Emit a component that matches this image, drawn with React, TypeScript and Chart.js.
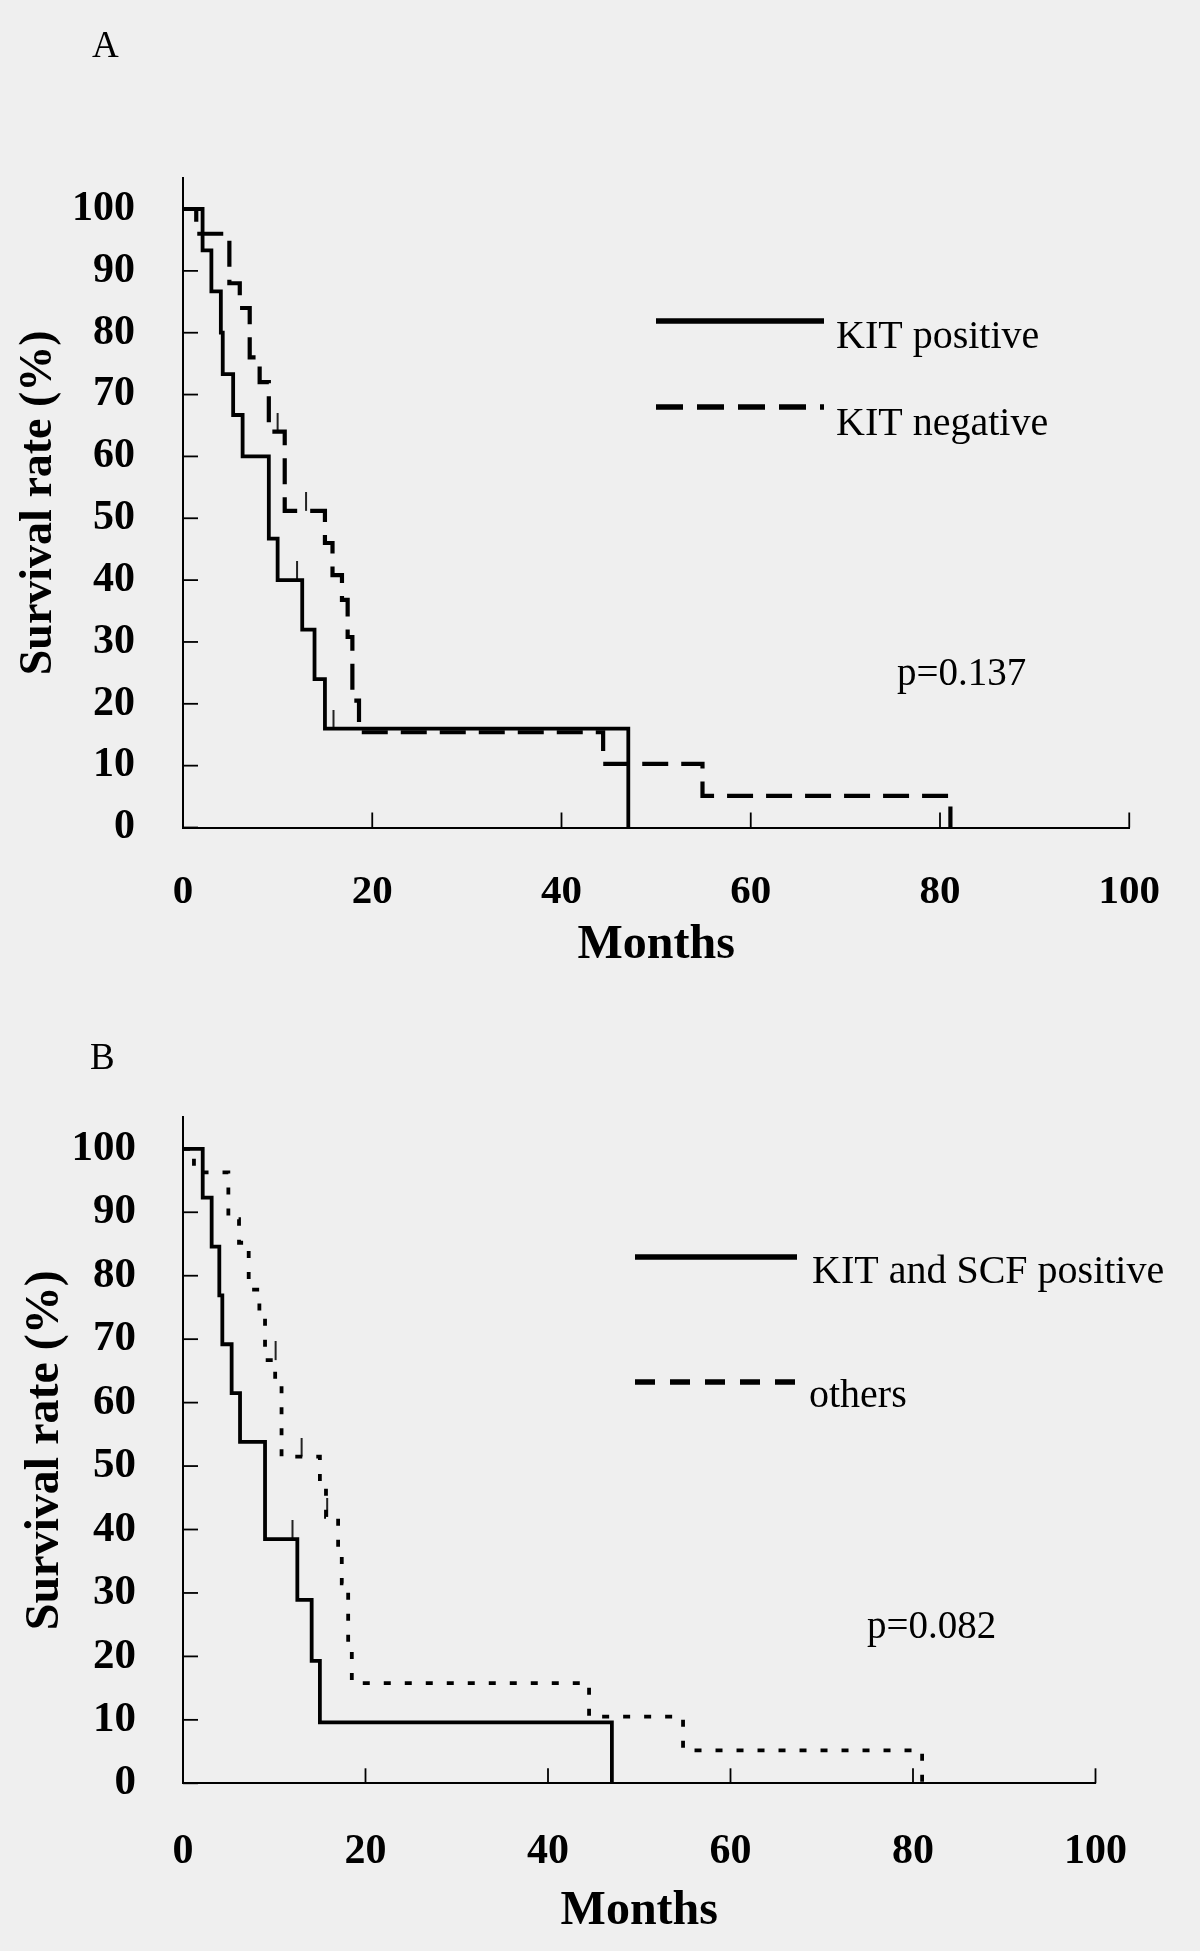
import React, { useEffect, useRef } from 'react';
import { Chart, registerables } from 'chart.js';

Chart.register(...registerables);

const FONT = '"Liberation Serif", "Times New Roman", serif';

// ---------- Panel A data ----------
const aPosMonths = [0, 2.07, 3.0, 4.0, 4.2, 5.3, 6.3, 9.07, 10.0, 12.6, 13.9, 15.0, 47.06];
const aPosSurv = [100, 93.3, 86.7, 80, 73.3, 66.7, 60, 46.7, 40, 32, 24, 16, 0];
const aPosCensorMonths = [12.05, 15.9];
const aPosCensorSurv = [40, 16];
const aNegMonths = [0, 1.4, 4.9, 6.0, 7.05, 8.1, 9.07, 10.75, 15.0, 15.8, 16.8, 17.4, 17.9, 18.6, 44.4, 54.9, 81.1];
const aNegSurv = [100, 96, 88, 84, 76, 72, 64, 51.2, 46, 40.8, 36.8, 30.8, 20.5, 15.4, 10.3, 5.1, 0];
const aNegCensorMonths = [10.0, 13.0];
const aNegCensorSurv = [64, 51.2];

// ---------- Panel B data ----------
const bPosMonths = [0, 2.16, 3.14, 3.98, 4.31, 5.33, 6.25, 8.99, 12.53, 14.1, 15.0, 47.0];
const bPosSurv = [100, 92.3, 84.6, 76.9, 69.2, 61.5, 53.8, 38.5, 28.9, 19.3, 9.6, 0];
const bPosCensorMonths = [12.0];
const bPosCensorSurv = [38.5];
const bOthMonths = [0, 1.2, 4.97, 6.14, 7.2, 8.37, 8.99, 10.1, 10.8, 15.0, 15.67, 17.0, 17.4, 18.1, 18.5, 44.5, 54.8, 81.0];
const bOthSurv = [100, 96.3, 88.9, 85.2, 77.8, 74.1, 66.7, 63.0, 51.5, 46.5, 42.0, 36.8, 31.5, 21.0, 15.8, 10.5, 5.2, 0];
const bOthCensorMonths = [10.15, 13.0, 15.8];
const bOthCensorSurv = [66.7, 51.5, 42.0];

// ---------- Axes ----------
const xMin = 0;
const xMax = 100;
const xStep = 20;
const yMin = 0;
const yMax = 105;
const yStep = 10;

const xTitle = 'Months';
const yTitle = 'Survival rate (%)';

const labelsA = ['KIT positive', 'KIT negative'];
const labelsB = ['KIT and SCF positive', 'others'];
const pValueA = 'p=0.137';
const pValueB = 'p=0.082';

function pts(xs: number[], ys: number[]) {
  return xs.map((x, i) => ({ x, y: ys[i] }));
}

function makeCensorMark(h: number, w: number): HTMLCanvasElement {
  const c = document.createElement('canvas');
  c.width = 4;
  c.height = h * 2;
  const g = c.getContext('2d')!;
  g.fillStyle = '#000';
  g.fillRect((4 - w) / 2, 0, w, h);
  return c;
}

const inwardTicks = {
  id: 'inwardTicks',
  afterDraw(chart: any) {
    const { ctx, chartArea } = chart;
    const x = chart.scales.x;
    const y = chart.scales.y;
    ctx.save();
    ctx.strokeStyle = '#000';
    ctx.lineWidth = 1.8;
    x.ticks.forEach((t: any) => {
      const px = x.getPixelForValue(t.value);
      ctx.beginPath();
      ctx.moveTo(px, chartArea.bottom);
      ctx.lineTo(px, chartArea.bottom - 15);
      ctx.stroke();
    });
    y.ticks.forEach((t: any) => {
      const py = y.getPixelForValue(t.value);
      ctx.beginPath();
      ctx.moveTo(chartArea.left, py);
      ctx.lineTo(chartArea.left + 15, py);
      ctx.stroke();
    });
    ctx.restore();
  },
};

type LegendItem = { x1: number; x2: number; y: number; tx: number; ty: number; width: number; dash?: number[] };

type Panel = {
  top: number;
  height: number;
  padTop: number;
  padRight: number;
  padBottom: number;
  yAxisWidth: number;
  xAxisBottomPx: number;
  xTickFont: number;
  yTickFont: number;
  xTickPad: number;
  yTickPad: number;
  xTitleFont: number;
  xTitlePad: number;
  yTitleFont: number;
  yTitlePad: number;
  letter: string;
  letterX: number;
  letterY: number;
  letterFont: number;
  pText: string;
  pX: number;
  pY: number;
  pFont: number;
  legend: LegendItem[];
  legendFont: number;
  datasets: any[];
};

const censorMark = typeof document !== 'undefined' ? makeCensorMark(19, 1.7) : null;

function curve(label: string, xs: number[], ys: number[], width: number, dash: number[]) {
  return {
    label,
    data: pts(xs, ys),
    borderColor: '#000',
    backgroundColor: '#000',
    borderWidth: width,
    borderDash: dash,
    stepped: 'before',
    pointRadius: 0,
    fill: false,
    inLegend: true,
  };
}

function censor(xs: number[], ys: number[]) {
  return {
    label: 'censored',
    data: pts(xs, ys),
    showLine: false,
    pointStyle: censorMark,
    pointRadius: 10,
    borderWidth: 0,
    borderColor: '#000',
    backgroundColor: '#000',
    inLegend: false,
  };
}

const panelA: Panel = {
  top: 0,
  height: 976,
  padTop: 178.1,
  padRight: 66,
  padBottom: 2,
  yAxisWidth: 183,
  xAxisBottomPx: 827.5,
  xTickFont: 41,
  yTickFont: 42,
  xTickPad: 40,
  yTickPad: 48,
  xTitleFont: 48,
  xTitlePad: 0,
  yTitleFont: 46,
  yTitlePad: 12,
  letter: 'A',
  letterX: 92,
  letterY: 57,
  letterFont: 37,
  pText: pValueA,
  pX: 897,
  pY: 685,
  pFont: 39,
  legend: [
    { x1: 656, x2: 824, y: 321, tx: 836, ty: 348, width: 5.5 },
    { x1: 656, x2: 824, y: 407, tx: 836, ty: 435, width: 5.5, dash: [27, 14] },
  ],
  legendFont: 40,
  datasets: [
    curve(labelsA[0], aPosMonths, aPosSurv, 3.8, []),
    curve(labelsA[1], aNegMonths, aNegSurv, 4.2, [26, 13]),
    censor(aPosCensorMonths, aPosCensorSurv),
    censor(aNegCensorMonths, aNegCensorSurv),
  ],
};

const panelB: Panel = {
  top: 976,
  height: 975,
  padTop: 141.1,
  padRight: 104.5,
  padBottom: 2,
  yAxisWidth: 183,
  xAxisBottomPx: 807.3,
  xTickFont: 42,
  yTickFont: 43,
  xTickPad: 44,
  yTickPad: 47,
  xTitleFont: 48,
  xTitlePad: 9,
  yTitleFont: 48,
  yTitlePad: 17,
  letter: 'B',
  letterX: 90,
  letterY: 93,
  letterFont: 37,
  pText: pValueB,
  pX: 867,
  pY: 662,
  pFont: 39,
  legend: [
    { x1: 635, x2: 797, y: 281, tx: 812, ty: 307, width: 5.5 },
    { x1: 635, x2: 797, y: 406, tx: 809, ty: 431, width: 5.5, dash: [20, 15] },
  ],
  legendFont: 40,
  datasets: [
    curve(labelsB[0], bPosMonths, bPosSurv, 3.8, []),
    curve(labelsB[1], bOthMonths, bOthSurv, 3.8, [7, 14]),
    censor(bPosCensorMonths, bPosCensorSurv),
    censor(bOthCensorMonths, bOthCensorSurv),
  ],
};

function textPlugin(p: Panel) {
  return {
    id: 'panelText',
    afterDraw(chart: any) {
      const ctx = chart.ctx;
      ctx.save();
      ctx.fillStyle = '#000';
      ctx.strokeStyle = '#000';
      ctx.textAlign = 'left';
      ctx.textBaseline = 'alphabetic';
      ctx.font = `${p.letterFont}px ${FONT}`;
      ctx.fillText(p.letter, p.letterX, p.letterY);
      ctx.font = `${p.pFont}px ${FONT}`;
      ctx.fillText(p.pText, p.pX, p.pY);
      const items = chart.data.datasets.filter((d: any) => d.inLegend);
      items.forEach((ds: any, i: number) => {
        const it = p.legend[i];
        if (!it) return;
        ctx.lineWidth = it.width;
        ctx.setLineDash(it.dash ?? ds.borderDash ?? []);
        ctx.beginPath();
        ctx.moveTo(it.x1, it.y);
        ctx.lineTo(it.x2, it.y);
        ctx.stroke();
        ctx.setLineDash([]);
        ctx.font = `${p.legendFont}px ${FONT}`;
        ctx.fillText(ds.label, it.tx, it.ty);
      });
      ctx.restore();
    },
  };
}

function PanelChart({ p }: { p: Panel }) {
  const ref = useRef<HTMLCanvasElement | null>(null);
  useEffect(() => {
    if (!ref.current) return;
    const xAxisHeight = p.height - p.padBottom - p.xAxisBottomPx;
    const chart = new Chart(ref.current, {
      type: 'line',
      data: { datasets: p.datasets },
      options: {
        responsive: false,
        animation: false,
        events: [],
        layout: { padding: { top: p.padTop, right: p.padRight, bottom: p.padBottom, left: 0 } },
        plugins: { legend: { display: false }, tooltip: { enabled: false }, title: { display: false } },
        elements: { line: { tension: 0 } },
        scales: {
          x: {
            type: 'linear',
            min: xMin,
            max: xMax,
            ticks: {
              stepSize: xStep,
              padding: p.xTickPad,
              color: '#000',
              font: { family: FONT, size: p.xTickFont, weight: 'bold' },
              maxRotation: 0,
              autoSkip: false,
            },
            grid: { display: false, drawTicks: false },
            border: { display: true, color: '#000', width: 2 },
            title: {
              display: true,
              text: xTitle,
              color: '#000',
              font: { family: FONT, size: p.xTitleFont, weight: 'bold' },
              padding: { top: 0, bottom: p.xTitlePad },
            },
            afterFit: (s: any) => {
              s.height = xAxisHeight;
            },
          },
          y: {
            type: 'linear',
            min: yMin,
            max: yMax,
            ticks: {
              stepSize: yStep,
              includeBounds: false,
              padding: p.yTickPad,
              color: '#000',
              font: { family: FONT, size: p.yTickFont, weight: 'bold' },
              autoSkip: false,
            },
            afterBuildTicks: (s: any) => {
              s.ticks = s.ticks.filter((t: any) => t.value % yStep === 0);
            },
            grid: { display: false, drawTicks: false },
            border: { display: true, color: '#000', width: 2 },
            title: {
              display: true,
              text: yTitle,
              color: '#000',
              font: { family: FONT, size: p.yTitleFont, weight: 'bold' },
              padding: { top: p.yTitlePad, bottom: 0 },
            },
            afterFit: (s: any) => {
              s.width = p.yAxisWidth;
            },
          },
        },
      } as any,
      plugins: [inwardTicks, textPlugin(p)],
    });
    return () => chart.destroy();
  }, [p]);
  return (
    <canvas
      ref={ref}
      width={1200}
      height={p.height}
      style={{ position: 'absolute', left: 0, top: p.top, width: 1200, height: p.height, display: 'block' }}
    />
  );
}

export default function App() {
  return (
    <div
      style={{
        position: 'absolute',
        left: 0,
        top: 0,
        width: 1200,
        height: 1951,
        background: '#efefef',
        overflow: 'hidden',
      }}
    >
      <PanelChart p={panelA} />
      <PanelChart p={panelB} />
    </div>
  );
}
